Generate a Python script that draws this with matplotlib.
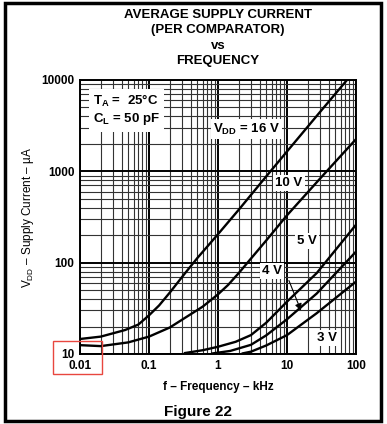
import numpy as np
import matplotlib
matplotlib.use('Agg')
import matplotlib.pyplot as plt
from matplotlib.patches import Rectangle
from matplotlib.ticker import LogLocator, FixedLocator, NullFormatter

plt.rcParams['font.family'] = ['Liberation Sans', 'DejaVu Sans']
plt.rcParams['mathtext.fontset'] = 'custom'
plt.rcParams['mathtext.rm'] = 'Liberation Sans'
plt.rcParams['mathtext.bf'] = 'Liberation Sans:bold'
plt.rcParams['mathtext.it'] = 'Liberation Sans:italic'

# frequency in kHz, supply current in uA
f_16v = [0.01, 0.02, 0.045, 0.07, 0.1, 0.14, 0.2, 0.33, 0.5, 1, 2, 5, 10, 30, 74]
i_16v = [14.6, 15.5, 18.3, 21, 26.5, 34, 47, 76, 112, 205, 380, 880, 1650, 4450, 10000]

f_10v = [0.01, 0.02, 0.05, 0.1, 0.2, 0.35, 0.6, 1, 1.4, 2, 5, 10, 30, 100]
i_10v = [12.5, 12.2, 13.4, 15.5, 19.5, 25.5, 33, 45, 57, 77, 175, 330, 830, 2250]

f_5v = [0.32, 0.6, 1, 1.8, 3, 5, 10, 27, 100]
i_5v = [10.2, 11, 12, 13.6, 16.1, 22, 37.4, 77, 260]

f_4v = [0.8, 1.5, 3, 5, 10, 27, 100]
i_4v = [10.1, 10.8, 12.6, 16, 24, 46, 132]

f_3v = [2.2, 3, 5, 10, 27, 100]
i_3v = [10.1, 10.6, 12.4, 16.1, 28, 62]

x_ticks = [0.01, 0.1, 1, 10, 100]
x_labels = ['0.01', '0.1', '1', '10', '100']
y_ticks = [10, 100, 1000, 10000]
y_labels = ['10', '100', '1000', '10000']

W, H = 387, 424
fig = plt.figure(figsize=(W / 100, H / 100), dpi=100)
fig.patch.set_facecolor('white')

ax = fig.add_axes([80 / W, 1 - 354 / H, 276 / W, 274 / H])
ax.set_xscale('log')
ax.set_yscale('log')
ax.set_xlim(0.01, 100)
ax.set_ylim(10, 10000)

ax.xaxis.set_major_locator(FixedLocator(x_ticks))
ax.yaxis.set_major_locator(FixedLocator(y_ticks))
ax.set_xticklabels(x_labels)
ax.set_yticklabels(y_labels)
ax.xaxis.set_minor_locator(LogLocator(base=10, subs=np.arange(2, 10)))
ax.yaxis.set_minor_locator(LogLocator(base=10, subs=np.arange(2, 10)))
ax.xaxis.set_minor_formatter(NullFormatter())
ax.yaxis.set_minor_formatter(NullFormatter())
ax.tick_params(which='both', length=0, pad=4)
for lab in ax.get_xticklabels() + ax.get_yticklabels():
    lab.set_fontweight('bold')
    lab.set_fontsize(8.5)

ax.grid(which='major', color='black', lw=1.4)
ax.grid(which='minor', color='#333333', lw=0.8)
for s in ax.spines.values():
    s.set_linewidth(1.4)

for f, i in [(f_16v, i_16v), (f_10v, i_10v), (f_5v, i_5v), (f_4v, i_4v), (f_3v, i_3v)]:
    ax.plot(f, i, color='black', lw=1.7, zorder=3, solid_capstyle='butt')

box = dict(facecolor='white', edgecolor='none', pad=1.5)
ax.text(0.0153, 4700, r'$\mathbf{T_A}$ =  25°C' + '\n' + r'$\mathbf{C_L}$ = 50 pF',
        fontsize=9.5, fontweight='bold', va='center', ha='left', zorder=4,
        linespacing=1.25, bbox=dict(facecolor='white', edgecolor='none', pad=3))
ax.text(2.6, 2900, r'$\mathbf{V_{DD}}$ = 16 V', fontsize=9.5, fontweight='bold',
        ha='center', va='center', zorder=4, bbox=box)
ax.text(10.7, 750, '10 V', fontsize=9.5, fontweight='bold', ha='center', va='center', zorder=4, bbox=box)
ax.text(19.5, 173, '5 V', fontsize=9.5, fontweight='bold', ha='center', va='center', zorder=4, bbox=box)
ax.text(6.1, 81, '4 V', fontsize=9.5, fontweight='bold', ha='center', va='center', zorder=4, bbox=box)
ax.text(38, 15, '3 V', fontsize=9.5, fontweight='bold', ha='center', va='center', zorder=4, bbox=box)
ax.annotate('', xy=(16.5, 28), xytext=(10.3, 68), zorder=4,
            arrowprops=dict(arrowstyle='-|>', color='black', lw=0.8, mutation_scale=10))

ax.set_xlabel('f – Frequency – kHz', fontsize=8.5, fontweight='bold', labelpad=7)
ax.set_ylabel(r'V$_\mathrm{DD}$ – Supply Current – µA', fontsize=8.5, labelpad=4)

title = 'AVERAGE SUPPLY CURRENT\n(PER COMPARATOR)\nvs\nFREQUENCY'
fig.text(218 / W, 1 - 38 / H, title, ha='center', va='center', fontsize=9.5,
         fontweight='bold', linespacing=1.35)
fig.text(198 / W, 1 - 412 / H, 'Figure 22', ha='center', va='center', fontsize=11,
         fontweight='bold')

fig.patches.append(Rectangle((5 / W, 1 - 421 / H), 376 / W, 418 / H, transform=fig.transFigure,
                             fill=False, edgecolor='black', lw=2.5))
fig.patches.append(Rectangle((53 / W, 1 - 374 / H), 49 / W, 33 / H, transform=fig.transFigure,
                             fill=False, edgecolor='#e8473f', lw=1.0))

fig.savefig('out.png', dpi=100)
